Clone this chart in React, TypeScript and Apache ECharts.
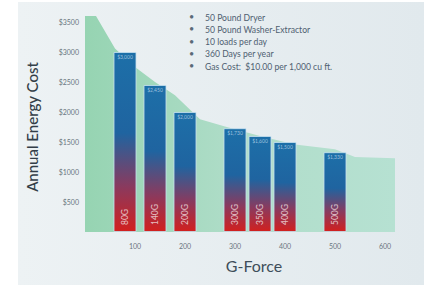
import React, { useEffect, useRef } from "react";
import * as echarts from "echarts";

const barForce = [80, 140, 200, 300, 350, 400, 500];
const barCost = [3000, 2450, 2000, 1730, 1600, 1500, 1330];
const barNames = ["80G", "140G", "200G", "300G", "350G", "400G", "500G"];

const curveForce = [0, 22, 60, 100, 140, 180, 230, 280, 350, 420, 500, 540, 620];
const curveCost = [3600, 3600, 3060, 2750, 2500, 2280, 1880, 1760, 1600, 1460, 1380, 1250, 1230];

const notes = [
  "50 Pound Dryer",
  "50 Pound Washer-Extractor",
  "10 loads per day",
  "360 Days per year",
  "Gas Cost:  $10.00 per 1,000 cu ft.",
];

const FONT = "Lato, 'Open Sans', sans-serif";

export default function App() {
  const ref = useRef<HTMLDivElement>(null);
  useEffect(() => {
    if (!ref.current) return;
    const chart = echarts.init(ref.current, null, { renderer: "svg" });
    const barData = barForce.map((f, i) => [f, barCost[i]]);
    const baseData = barForce.map((f) => [f, 0]);
    const curveData = curveForce.map((f, i) => [f, curveCost[i]]);
    const noteTexts: any[] = [];
    notes.forEach((t, i) => {
      noteTexts.push({
        type: "text",
        left: 189,
        top: 12 + i * 12.3,
        style: { text: "•", fill: "#5a6a78", font: `9px ${FONT}` },
      });
      noteTexts.push({
        type: "text",
        left: 205,
        top: 13 + i * 12.3,
        style: { text: t, fill: "#4e6070", font: `8.6px ${FONT}` },
      });
    });
    chart.setOption({
      animation: false,
      backgroundColor: "#ffffff",
      graphic: [
        {
          type: "rect",
          shape: { x: 18, y: 2, width: 406, height: 283 },
          style: {
            fill: new echarts.graphic.LinearGradient(0, 0, 1, 0, [
              { offset: 0, color: "#edf2f4" },
              { offset: 1, color: "#e1e9ed" },
            ]),
          },
          z: -10,
        },
        {
          type: "text",
          x: 32,
          y: 127,
          rotation: Math.PI / 2,
          style: {
            text: "Annual Energy Cost",
            fill: "#333e48",
            font: `500 15px ${FONT}`,
            align: "center",
            verticalAlign: "middle",
          },
        },
        {
          type: "text",
          x: 254,
          y: 265,
          style: {
            text: "G-Force",
            fill: "#3e4e5a",
            font: `16px ${FONT}`,
            align: "center",
            verticalAlign: "middle",
          },
        },
        ...noteTexts,
      ],
      grid: { left: 85, right: 29, top: 16, bottom: 53 },
      xAxis: {
        type: "value",
        min: 0,
        max: 620,
        interval: 100,
        axisLine: { show: false },
        axisTick: { show: false },
        splitLine: { show: false },
        axisLabel: {
          color: "#6a7680",
          fontSize: 7,
          fontFamily: FONT,
          margin: 10,
          formatter: (v: number) => (v > 0 && v % 100 === 0 ? String(v) : ""),
        },
      },
      yAxis: {
        type: "value",
        min: 0,
        max: 3600,
        interval: 500,
        axisLine: { show: false },
        axisTick: { show: false },
        splitLine: { show: false },
        axisLabel: {
          color: "#6a7680",
          fontSize: 7,
          fontFamily: FONT,
          margin: 6,
          formatter: (v: number) => (v > 0 && v % 500 === 0 ? "$" + v : ""),
        },
      },
      series: [
        {
          type: "line",
          data: curveData,
          symbol: "none",
          lineStyle: { width: 0 },
          areaStyle: {
            color: new echarts.graphic.LinearGradient(0, 0, 1, 0, [
              { offset: 0, color: "#96d4b2" },
              { offset: 0.5, color: "#b0ddc9" },
              { offset: 1, color: "#b6e1d2" },
            ]),
            opacity: 1,
          },
          z: 1,
        },
        {
          type: "bar",
          data: barData,
          barWidth: 23,
          itemStyle: {
            borderColor: "rgba(200,225,240,0.8)",
            borderWidth: 1,
            color: new echarts.graphic.LinearGradient(0, 0, 0, 1, [
              { offset: 0, color: "#1d6fa8" },
              { offset: 0.45, color: "#1f64a0" },
              { offset: 0.75, color: "#8a3a5e" },
              { offset: 1, color: "#d2201e" },
            ]),
          },
          z: 2,
        },
        {
          type: "scatter",
          data: baseData,
          symbolSize: 0,
          silent: true,
          label: {
            show: true,
            position: "top",
            distance: 7,
            rotate: 90,
            align: "left",
            verticalAlign: "middle",
            color: "#f3e6e6",
            fontSize: 8.5,
            fontFamily: FONT,
            formatter: (p: any) => barNames[p.dataIndex],
          },
          z: 3,
        },
        {
          type: "scatter",
          data: barData,
          symbolSize: 0,
          silent: true,
          label: {
            show: true,
            position: "bottom",
            distance: 2,
            color: "#bcd6ea",
            fontSize: 5,
            fontFamily: FONT,
            formatter: (p: any) => "$" + p.value[1].toLocaleString("en-US"),
          },
          z: 3,
        },
      ],
    });
    return () => chart.dispose();
  }, []);
  return (
    <div
      ref={ref}
      style={{ position: "fixed", left: 0, top: 0, width: 424, height: 285 }}
    />
  );
}
